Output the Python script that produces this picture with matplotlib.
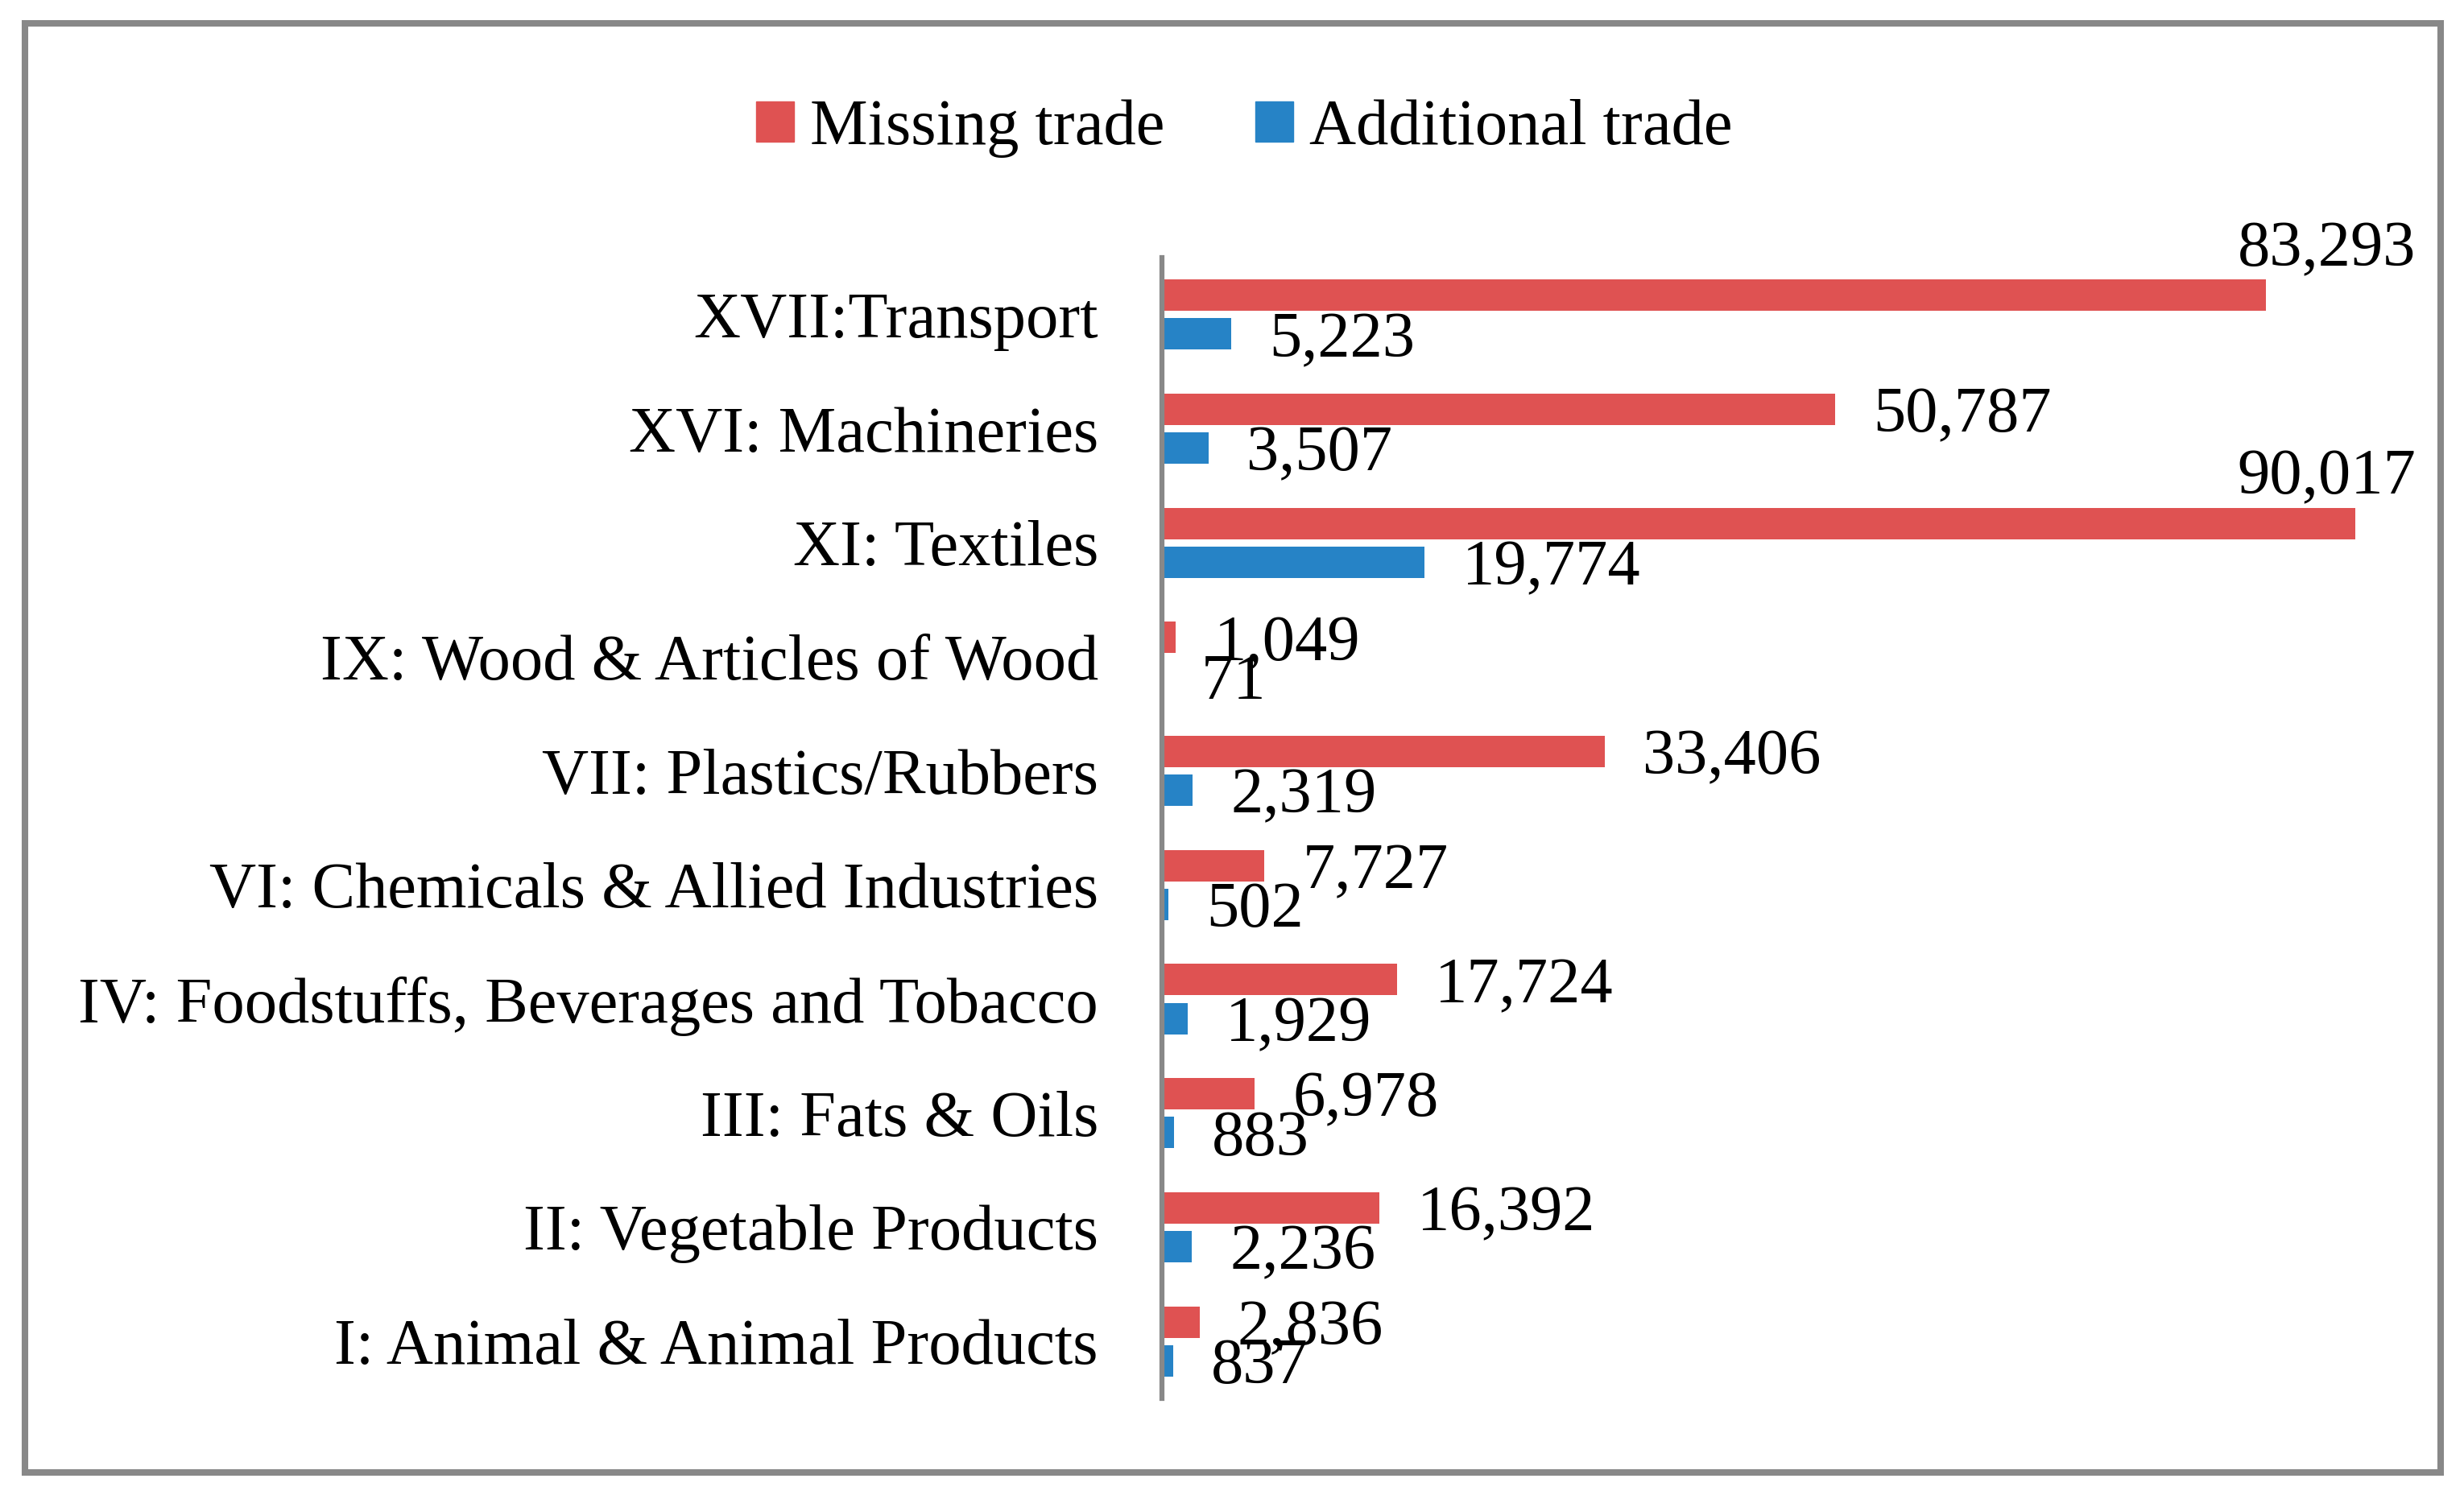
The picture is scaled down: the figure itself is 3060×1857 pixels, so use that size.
import numpy as np
import matplotlib
matplotlib.use('Agg')
import matplotlib.pyplot as plt
from matplotlib.patches import Rectangle, Patch

# categories from bottom to top
categories = ['I: Animal & Animal Products', 'II: Vegetable Products', 'III: Fats & Oils',
              'IV: Foodstuffs, Beverages and Tobacco', 'VI: Chemicals & Allied Industries',
              'VII: Plastics/Rubbers', 'IX: Wood & Articles of Wood', 'XI: Textiles',
              'XVI: Machineries', 'XVII:Transport']
missing_trade = [2836, 16392, 6978, 17724, 7727, 33406, 1049, 90017, 50787, 83293]
additional_trade = [837, 2236, 883, 1929, 502, 2319, 71, 19774, 3507, 5223]

red = '#DF5252'
blue = '#2683C6'
gray = '#888888'
fs = 58
plt.rcParams['font.family'] = ['Liberation Serif', 'DejaVu Serif']

fig = plt.figure(figsize=(30.6, 18.57), dpi=100)
ax = fig.add_axes([0.4716, 0.0646, 0.9804 - 0.4716, 0.8277 - 0.0646])

y = np.arange(len(categories))
h = 0.275
off = 0.17
xmax = 94600
ax.barh(y + off, missing_trade, height=h, color=red, label='Missing trade')
ax.barh(y - off, additional_trade, height=h, color=blue, label='Additional trade')

ax.set_xlim(0, xmax)
ax.set_ylim(-0.5, len(categories) - 0.5)
ax.set_yticks(y)
ax.set_yticklabels(categories, fontsize=fs)
ax.tick_params(axis='y', length=0, pad=57)
ax.set_xticks([])
for s in ['top', 'right', 'bottom']:
    ax.spines[s].set_visible(False)
ax.spines['left'].set_color(gray)
ax.spines['left'].set_linewidth(4.5)

def label_bars(vals, ys):
    for v, yy in zip(vals, ys):
        txt = f'{v:,}'
        if v > 0.85 * xmax:
            # no room at the end of the bar: sit on top of it, at the right edge
            ax.annotate(txt, (xmax, yy + h / 2), xytext=(0, 0), textcoords='offset points',
                        ha='right', va='bottom', fontsize=fs, annotation_clip=False)
        else:
            ax.annotate(txt, (v, yy), xytext=(34, 0), textcoords='offset points',
                        ha='left', va='center_baseline', fontsize=fs, annotation_clip=False)

label_bars(missing_trade, y + off)
label_bars(additional_trade, y - off)

handles = [Patch(color=red, label='Missing trade'), Patch(color=blue, label='Additional trade')]
fig.legend(handles=handles, loc='center', bbox_to_anchor=(0.505, 0.914), ncol=2,
           frameon=False, fontsize=fs, handlelength=0.58, handleheight=0.58,
           handletextpad=0.25, columnspacing=1.4)

# outer border
fig.patches.append(Rectangle((31 / 3060, 1 - 1829 / 1857), 3000 / 3060, 1800 / 1857,
                             transform=fig.transFigure, fill=False, edgecolor=gray,
                             linewidth=5.8))

fig.savefig('out.png', dpi=100)
